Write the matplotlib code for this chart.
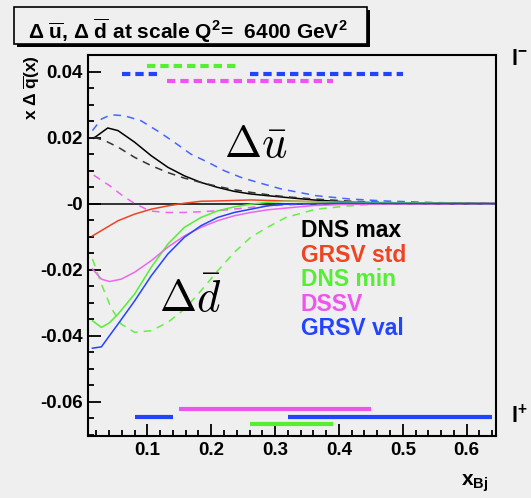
import matplotlib
matplotlib.use("Agg")
import matplotlib.pyplot as plt
from matplotlib.patches import Rectangle
from matplotlib.ticker import FixedLocator, FixedFormatter, MultipleLocator

plt.rcParams['font.family'] = ['Liberation Sans', 'DejaVu Sans']
plt.rcParams['font.weight'] = 'bold'
plt.rcParams['mathtext.fontset'] = 'custom'
plt.rcParams['mathtext.rm'] = 'Liberation Sans:bold'
plt.rcParams['mathtext.it'] = 'Liberation Sans:bold'
plt.rcParams['mathtext.bf'] = 'Liberation Sans:bold'

BG = '#efefef'

# Kurven (x, x*Delta q)
x_dns_max = [0.016, 0.038, 0.054, 0.080, 0.106, 0.132, 0.158, 0.184, 0.210, 0.236, 0.262, 0.288, 0.315, 0.36, 0.42, 0.50, 0.646]
y_dns_max = [0.0198, 0.0229, 0.0221, 0.0186, 0.0145, 0.0110, 0.0084, 0.0064, 0.0049, 0.0037, 0.0029, 0.0024, 0.0019, 0.0011, 0.0004, 0.0001, 0.0]

x_dns_max_d = [0.016, 0.033, 0.054, 0.080, 0.106, 0.132, 0.158, 0.184, 0.210, 0.236, 0.262, 0.288, 0.315, 0.36, 0.42, 0.50, 0.646]
y_dns_max_d = [0.0201, 0.0191, 0.0171, 0.0140, 0.0115, 0.0094, 0.0077, 0.0064, 0.0052, 0.0042, 0.0034, 0.0027, 0.0021, 0.0014, 0.0007, 0.0002, 0.0]

x_grsv_val_d = [0.014, 0.028, 0.043, 0.064, 0.090, 0.116, 0.142, 0.168, 0.195, 0.221, 0.247, 0.273, 0.310, 0.364, 0.416, 0.470, 0.55, 0.646]
y_grsv_val_d = [0.0221, 0.0256, 0.0269, 0.0266, 0.0251, 0.0220, 0.0186, 0.0150, 0.0125, 0.0099, 0.0079, 0.0064, 0.0044, 0.0024, 0.0014, 0.0008, 0.0003, 0.0]

x_dssv_d = [0.016, 0.041, 0.061, 0.077, 0.103, 0.129, 0.155, 0.181, 0.208, 0.234, 0.260, 0.286, 0.33, 0.40, 0.646]
y_dssv_d = [0.0086, 0.0054, 0.0024, 0.0004, -0.0022, -0.0027, -0.0027, -0.0025, -0.0022, -0.0017, -0.0012, -0.0007, -0.0003, -0.0001, 0.0]

x_grsv_std = [0.014, 0.054, 0.080, 0.106, 0.132, 0.158, 0.184, 0.210, 0.262, 0.315, 0.40, 0.50, 0.646]
y_grsv_std = [-0.0098, -0.0052, -0.0032, -0.0017, -0.0007, 0.0001, 0.0007, 0.0008, 0.0011, 0.0008, 0.0004, 0.0002, 0.0]

x_dns_min = [0.014, 0.028, 0.040, 0.054, 0.080, 0.106, 0.132, 0.158, 0.184, 0.210, 0.236, 0.262, 0.288, 0.315, 0.40, 0.646]
y_dns_min = [-0.0355, -0.0375, -0.0362, -0.0335, -0.0274, -0.0193, -0.0123, -0.0072, -0.0042, -0.0022, -0.0010, -0.0002, 0.0004, 0.0007, 0.0004, 0.0]

x_dns_min_d = [0.014, 0.028, 0.043, 0.059, 0.080, 0.106, 0.132, 0.158, 0.184, 0.210, 0.236, 0.262, 0.288, 0.317, 0.364, 0.416, 0.479, 0.646]
y_dns_min_d = [-0.0168, -0.0244, -0.0315, -0.0365, -0.0390, -0.0385, -0.0360, -0.0320, -0.0264, -0.0204, -0.0148, -0.0102, -0.0072, -0.0042, -0.0017, -0.0007, 0.0, 0.0]

x_dssv = [0.014, 0.028, 0.041, 0.059, 0.080, 0.106, 0.132, 0.158, 0.184, 0.210, 0.236, 0.262, 0.288, 0.315, 0.36, 0.42, 0.646]
y_dssv = [-0.0198, -0.0229, -0.0236, -0.0229, -0.0208, -0.0173, -0.0132, -0.0098, -0.0072, -0.0052, -0.0037, -0.0027, -0.0019, -0.0014, -0.0006, -0.0002, 0.0]

x_grsv_val = [0.014, 0.028, 0.040, 0.054, 0.080, 0.106, 0.132, 0.158, 0.184, 0.210, 0.236, 0.262, 0.288, 0.315, 0.40, 0.646]
y_grsv_val = [-0.0438, -0.0434, -0.0402, -0.0365, -0.0295, -0.0219, -0.0153, -0.0102, -0.0067, -0.0042, -0.0027, -0.0017, -0.0007, -0.0002, 0.0001, 0.0]

# x-Bereiche oben (l-) und unten (l+): (x_start, x_ende, y)
ranges_top = [
    (0.10, 0.24, 0.0418, '#55ee33'),
    (0.06, 0.12, 0.0393, '#2244ff'),
    (0.26, 0.50, 0.0393, '#2244ff'),
    (0.13, 0.39, 0.0371, '#ee55ee'),
]
ranges_bottom = [
    (0.15, 0.45, -0.0622, '#ee55ee'),
    (0.08, 0.14, -0.0646, '#2244ff'),
    (0.32, 0.64, -0.0646, '#2244ff'),
    (0.26, 0.39, -0.0668, '#55ee33'),
]

legend_names = ['DNS max', 'GRSV std', 'DNS min', 'DSSV', 'GRSV val']
legend_colors = ['black', '#ee4422', '#55ee33', '#ee55ee', '#2244ff']

y_ticks = [-0.06, -0.04, -0.02, 0.0, 0.02, 0.04]
y_ticklabels = ['-0.06', '-0.04', '-0.02', '-0', '0.02', '0.04']
x_ticks = [0.1, 0.2, 0.3, 0.4, 0.5, 0.6]
x_ticklabels = ['0.1', '0.2', '0.3', '0.4', '0.5', '0.6']

fig = plt.figure(figsize=(5.31, 4.98), dpi=100, facecolor=BG)
ax = fig.add_axes([88.3 / 531, 1 - 436 / 498, (496 - 88.3) / 531, (436 - 55) / 498])
ax.set_facecolor(BG)
ax.set_xlim(0.0075, 0.646)
ax.set_ylim(-0.0704, 0.0450)

ax.axhline(0, color='black', lw=1.1, zorder=1)

lw = 1.1
ax.plot(x_dns_max, y_dns_max, color='black', lw=lw)
ax.plot(x_dns_max_d, y_dns_max_d, color='#333333', lw=lw, ls=(0, (5, 4)))
ax.plot(x_grsv_val_d, y_grsv_val_d, color='#4466ff', lw=lw, ls=(0, (5, 4)))
ax.plot(x_dssv_d, y_dssv_d, color='#ee66ee', lw=lw, ls=(0, (5, 4)))
ax.plot(x_grsv_std, y_grsv_std, color='#ee4422', lw=lw)
ax.plot(x_dns_min, y_dns_min, color='#55ee33', lw=lw)
ax.plot(x_dns_min_d, y_dns_min_d, color='#66ee44', lw=lw, ls=(0, (5, 4)))
ax.plot(x_dssv, y_dssv, color='#ee66ee', lw=lw)
ax.plot(x_grsv_val, y_grsv_val, color='#2244ff', lw=lw)

for x0, x1, yy, c in ranges_top:
    ax.plot([x0, x1], [yy, yy], color=c, lw=3, ls=(0, (2.0, 1.2)), solid_capstyle='butt')
for x0, x1, yy, c in ranges_bottom:
    ax.plot([x0, x1], [yy, yy], color=c, lw=3, solid_capstyle='butt')

for i, (name, c) in enumerate(zip(legend_names, legend_colors)):
    ax.text(0.3406, -0.0102 - i * 0.0074, name, color=c, fontsize=16.5, fontweight='bold')

ax.text(0.2206, 0.0141, r'$\Delta\bar{u}$', fontsize=32, math_fontfamily='cm')
ax.text(0.119, -0.0329, r'$\Delta\bar{d}$', fontsize=32, math_fontfamily='cm')

# Achsen im ROOT-Stil
for s in ax.spines.values():
    s.set_linewidth(1.5)
ax.yaxis.set_major_locator(FixedLocator(y_ticks))
ax.yaxis.set_major_formatter(FixedFormatter(y_ticklabels))
ax.yaxis.set_minor_locator(MultipleLocator(0.005))
ax.xaxis.set_major_locator(FixedLocator(x_ticks))
ax.xaxis.set_major_formatter(FixedFormatter(x_ticklabels))
ax.xaxis.set_minor_locator(MultipleLocator(0.02))
ax.tick_params(which='both', direction='in', width=1.3, top=False, right=False)
ax.tick_params(which='major', length=9, labelsize=13.5, pad=4)
ax.tick_params(which='minor', length=4.5)
for lab in ax.get_xticklabels() + ax.get_yticklabels():
    lab.set_fontweight('bold')

fig.text(31.5 / 531, 1 - 55 / 498, r'x $\Delta$ $\overline{\mathrm{q}}$(x)', rotation=90,
         ha='center', va='top', fontsize=12.5, fontweight='bold')
fig.text(488 / 531, 1 - 486 / 498, r'x$_{\mathrm{Bj}}$', ha='right', va='baseline',
         fontsize=15, fontweight='bold')
fig.text(511 / 531, 1 - 65 / 498, r'l$^{-}$', ha='left', va='baseline', fontsize=16, fontweight='bold')
fig.text(511 / 531, 1 - 423 / 498, r'l$^{+}$', ha='left', va='baseline', fontsize=16, fontweight='bold')

# Titelbox mit Schatten
fig.add_artist(Rectangle((17 / 531, 1 - 47 / 498), 353 / 531, 37 / 498,
                         transform=fig.transFigure, facecolor='black', edgecolor='none'))
fig.add_artist(Rectangle((14 / 531, 1 - 44 / 498), 353 / 531, 37 / 498,
                         transform=fig.transFigure, facecolor=BG, edgecolor='black', lw=1.2))
fig.text(28 / 531, 1 - 39 / 498,
         r'$\Delta$ $\overline{\mathrm{u}}$, $\Delta$ $\overline{\mathrm{d}}$ at scale Q$^{2}$=  6400 GeV$^{2}$',
         ha='left', va='baseline', fontsize=15, fontweight='bold')

fig.savefig('out.png', dpi=100, facecolor=BG)
